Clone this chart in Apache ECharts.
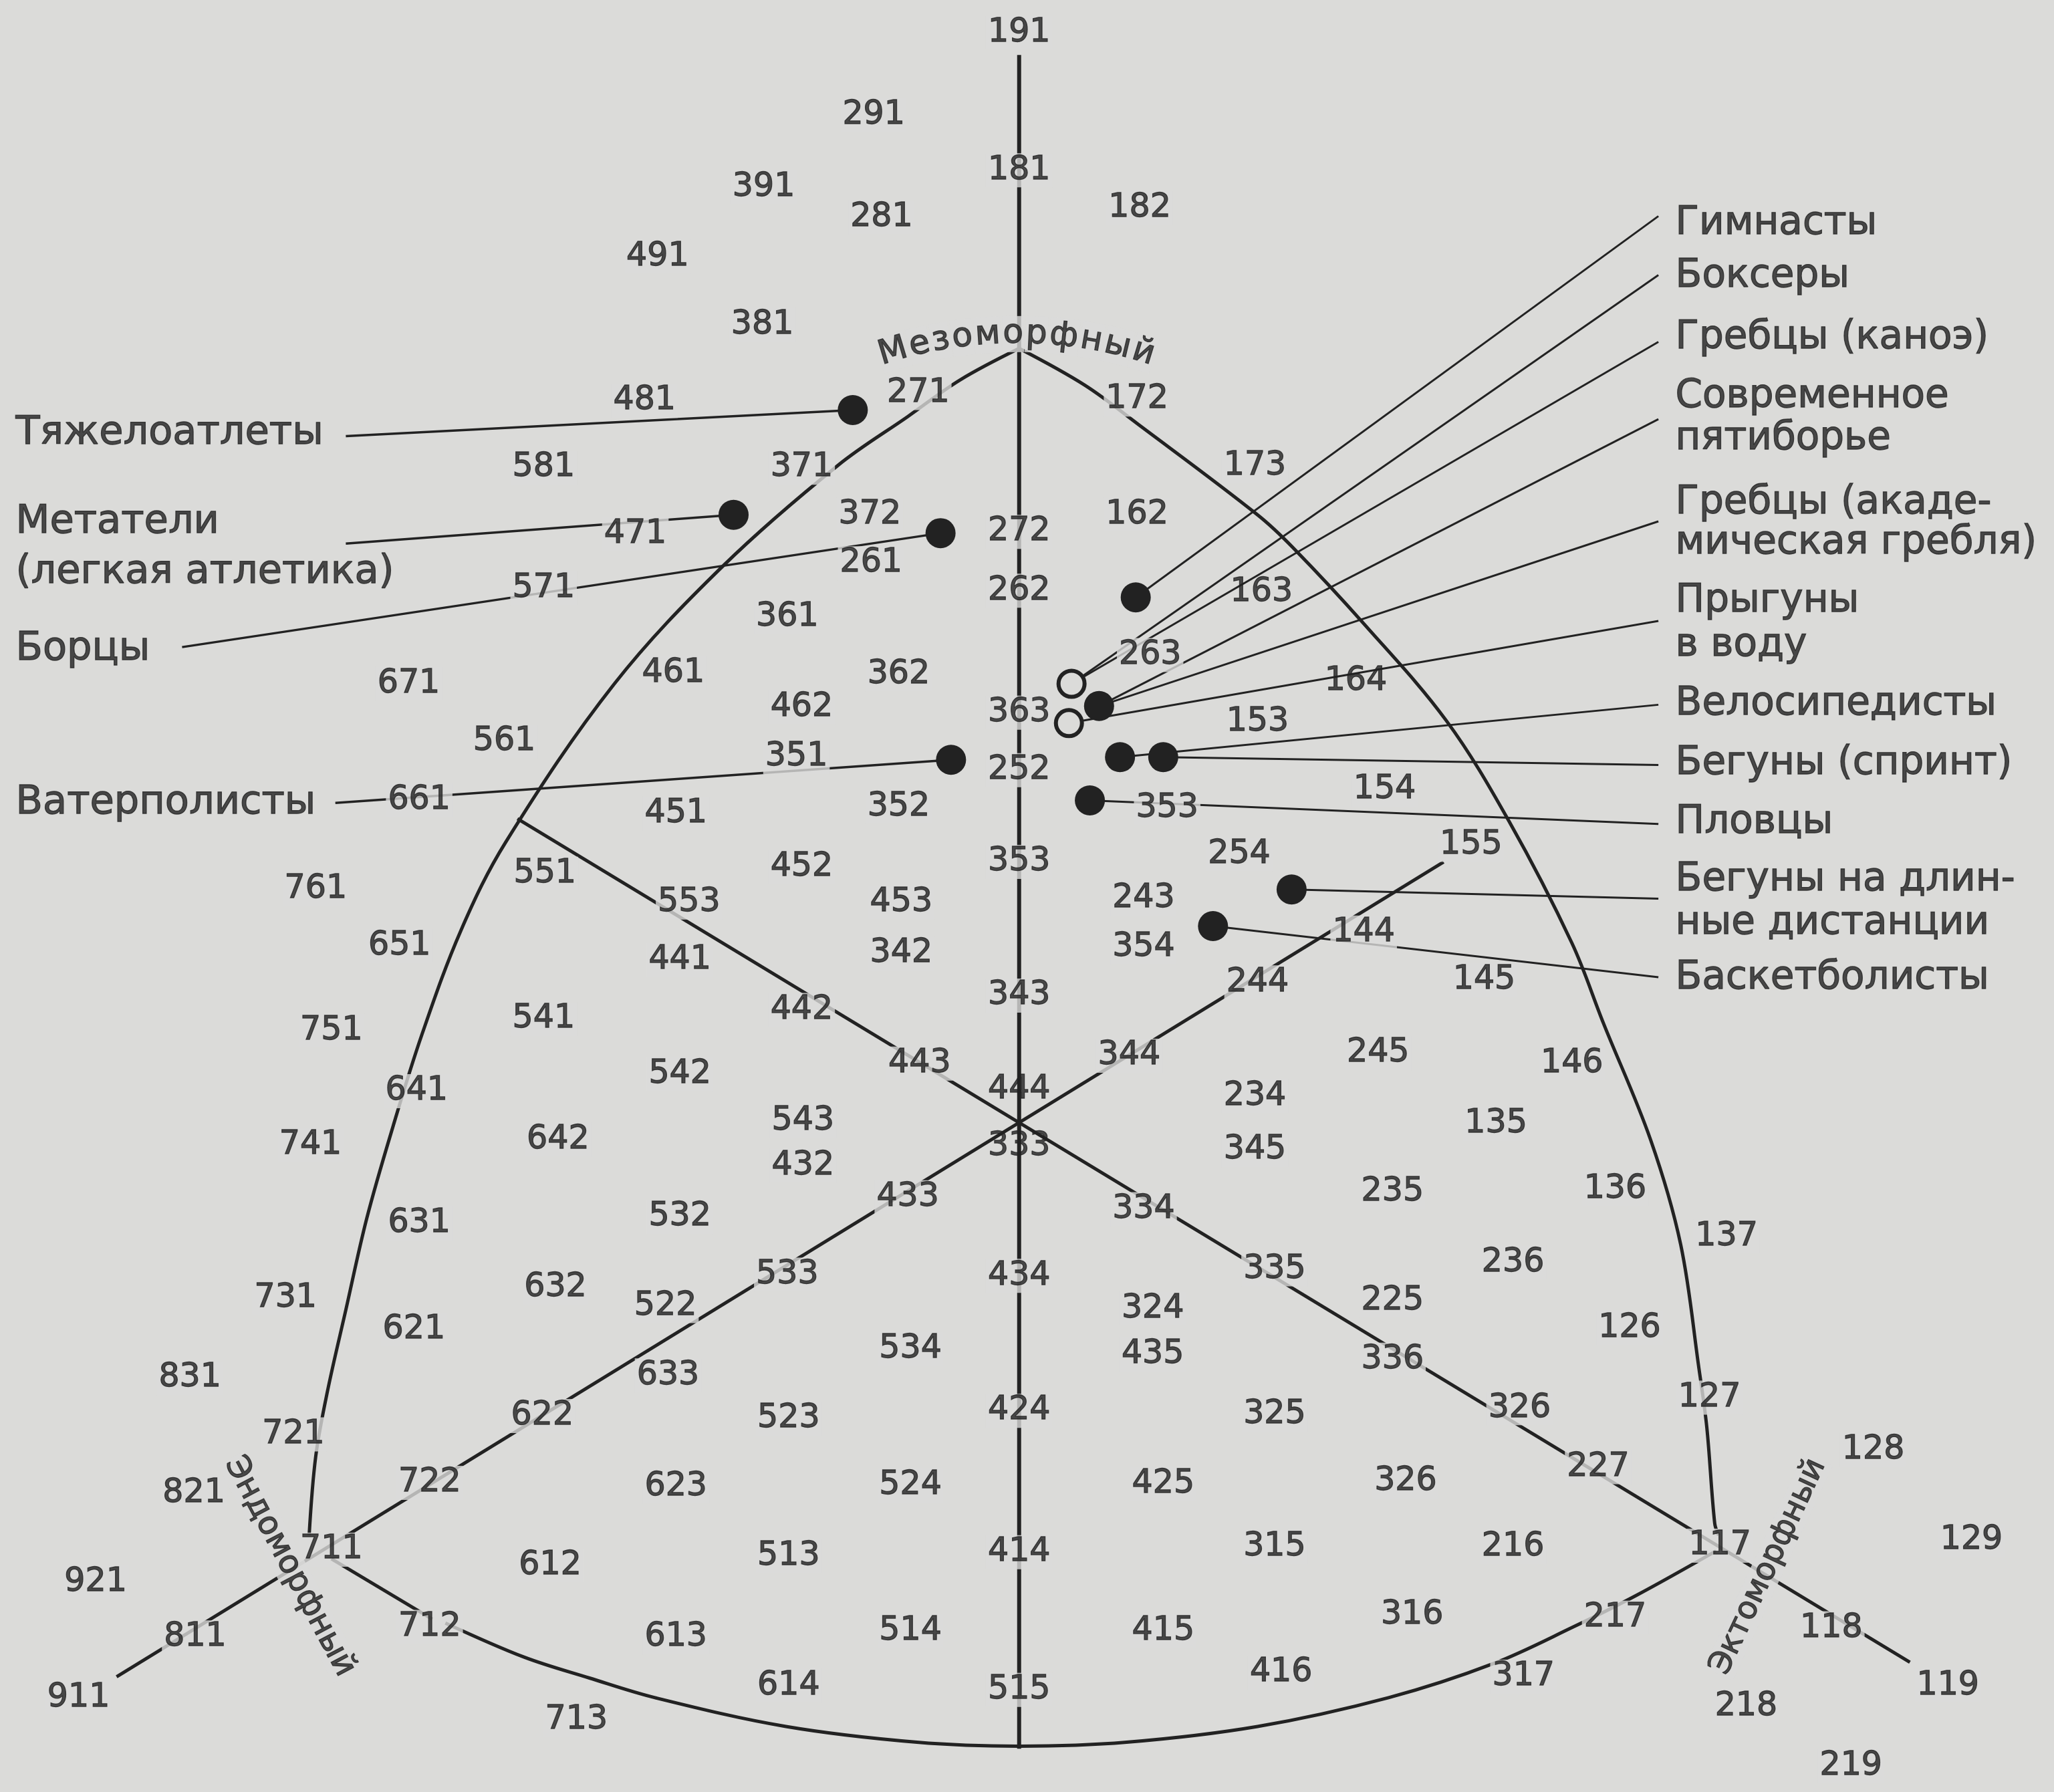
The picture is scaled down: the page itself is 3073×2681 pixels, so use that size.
<!DOCTYPE html>
<html><head><meta charset="utf-8">
<script src="https://cdn.jsdelivr.net/npm/echarts@6/dist/echarts.min.js"></script>
<style>html,body{margin:0;padding:0;background:#dbdbd9}#c{width:3073px;height:2681px}</style>
</head><body><div id="c"></div>
<script>
// ---- somatotype codes: [x, y, code] in chart units (plot spans 1568 x 1368) ----
const codes = [
[778,25,'191'],[667,88,'291'],[778,130,'181'],[583,143,'391'],[870,159,'182'],[673,166,'281'],
[502,196,'491'],[582,248,'381'],[492,306,'481'],[701,300,'271'],[868,305,'172'],
[415,357,'581'],[612,357,'371'],[958,356,'173'],
[485,408,'471'],[664,393,'372'],[778,406,'272'],[868,393,'162'],[665,430,'261'],
[415,449,'571'],[778,451,'262'],[963,452,'163'],[601,471,'361'],[878,500,'263'],
[312,522,'671'],[514,514,'461'],[686,515,'362'],[1035,520,'164'],
[612,540,'462'],[778,544,'363'],[960,551,'153'],[385,566,'561'],[608,578,'351'],[778,588,'252'],
[1057,603,'154'],[320,611,'661'],[516,621,'451'],[686,616,'352'],[891,617,'353'],
[1123,645,'155'],[946,652,'254'],[416,667,'551'],[612,662,'452'],[778,658,'353'],
[241,679,'761'],[526,689,'553'],[688,689,'453'],[873,686,'243'],[1041,712,'144'],
[305,722,'651'],[519,733,'441'],[688,728,'342'],[873,723,'354'],
[1133,748,'145'],[960,750,'244'],[778,760,'343'],[612,771,'442'],[253,787,'751'],[415,778,'541'],
[1052,804,'245'],[1200,812,'146'],[702,812,'443'],[862,806,'344'],[519,820,'542'],
[318,833,'641'],[778,832,'444'],[958,837,'234'],[613,856,'543'],[1142,858,'135'],
[237,874,'741'],[426,870,'642'],[778,875,'333'],[958,878,'345'],
[613,890,'432'],[1233,908,'136'],[1063,910,'235'],[693,914,'433'],
[873,923,'334'],[320,934,'631'],[519,929,'532'],[1318,944,'137'],
[1155,964,'236'],[973,969,'335'],[601,973,'533'],[778,974,'434'],
[424,983,'632'],[218,991,'731'],[508,997,'522'],[1063,993,'225'],[880,999,'324'],
[316,1015,'621'],[1244,1014,'126'],[695,1030,'534'],[880,1034,'435'],[1063,1038,'336'],
[510,1050,'633'],[145,1052,'831'],
[1305,1067,'127'],[1160,1075,'326'],[414,1081,'622'],[778,1077,'424'],[973,1080,'325'],[602,1083,'523'],
[224,1095,'721'],[1430,1107,'128'],[1220,1120,'227'],[328,1132,'722'],[516,1135,'623'],
[695,1134,'524'],[888,1133,'425'],[1073,1131,'326'],[148,1140,'821'],
[253,1183,'711'],[778,1185,'414'],[973,1181,'315'],[1155,1181,'216'],[1313,1180,'117'],
[1505,1176,'129'],[420,1195,'612'],[602,1188,'513'],[73,1208,'921'],
[328,1242,'712'],[516,1250,'613'],[695,1245,'514'],[888,1245,'415'],[1078,1233,'316'],
[1233,1235,'217'],[1398,1243,'118'],[149,1250,'811'],
[602,1287,'614'],[778,1290,'515'],[978,1277,'416'],[1163,1280,'317'],[60,1296,'911'],
[440,1313,'713'],[1487,1287,'119'],[1333,1303,'218'],[1413,1348,'219']
];
const crossedCodes = ['444','333','163','164','153'];

// ---- frame lines of the somatochart ----
const verticalAxisLine = [[778,42],[778,1335]];
const leftArc = [[778,266],[733,290],[693,318],[640,355],[552,432],[469,522],[386,643],[352,710],
  [322,790],[300,860],[280,930],[264,1000],[250,1062],[241,1112],[236,1172]];
const rightArc = [[778,266],[828,294],[869,324],[960,393],[987,418],[1041,476],[1104,550],[1152,627],
  [1200,720],[1224,781],[1260,870],[1283,950],[1297,1045],[1303,1090],[1309,1163],[1312,1172]];
const bottomLink = [[253,1190],[330,1236]];
const bottomArc = [[340,1239],[400,1265],[450,1281],[500,1296],[600,1318],[700,1330],[778,1333],
  [860,1330],[960,1318],[1060,1296],[1140,1270],[1201,1242],[1249,1218],[1310,1184]];
const diagonalA = [[395,625],[1458,1269]];
const diagonalB = [[1102,658],[89,1280]];

// ---- sport groups ----
const sportMarkers = [[651,313],[560,393],[718,407],[726,580],[867,456],[818,522],[839,539],
  [816,552],[855,578],[888,578],[832,611],[986,679],[926,707]];
const markerOpen = [false,false,false,false,false,true,false,true,false,false,false,false,false];
const sportNames = ['Тяжелоатлеты','Метатели (легкая атлетика)','Борцы','Ватерполисты','Гимнасты',
  'Боксеры','Гребцы (каноэ)','Современное пятиборье','Гребцы (академическая гребля)','Прыгуны в воду',
  'Велосипедисты','Бегуны (спринт)','Пловцы','Бегуны на длинные дистанции','Баскетболисты'];
const sportMarkerIndex = [0,1,2,3,4,5,5,6,6,7,8,9,10,11,12];
const leaderEnds = [[264,333],[264,415],[139,494],[256,613],[1266,165],[1266,210],[1266,261],
  [1266,320],[1266,398],[1266,474],[1266,538],[1266,584],[1266,629],[1266,686],[1266,746]];
const leftTexts = [['Тяжелоатлеты',12,331],['Метатели',12,399],['(легкая атлетика)',12,437],
  ['Борцы',12,496],['Ватерполисты',12,613]];
const rightTexts = [['Гимнасты',171],['Боксеры',211],['Гребцы (каноэ)',258],['Современное',303],
  ['пятиборье',335],['Гребцы (акаде-',384],['мическая гребля)',415],['Прыгуны',459],['в воду',493],
  ['Велосипедисты',538],['Бегуны (спринт)',583],['Пловцы',628],['Бегуны на длин-',672],
  ['ные дистанции',705],['Баскетболисты',747]];
const rightTextX = 1279;

// ---- axis names ----
const mesoWord = 'Мезоморфный';
const endoWord = 'Эндоморфный';
const ectoWord = 'Эктоморфный';

const BG = '#dbdbd9';
const INK = '#222222';
const FONT = 'DejaVu Sans';
const U = 3073 / 1568;
const TB = {textBorderColor: INK, textBorderWidth: 1.3};

function lineSeries(data, width, smooth, z) {
  return {type:'line', data, smooth: smooth || false, symbol:'none', silent:true, animation:false,
    clip:false, z: z || 2, lineStyle:{color:INK, width, cap:'butt'}};
}

// arched "Мезоморфный" letters
const arcR = 330, arcCx = 776, arcTop = 255, arcSpan = 213, mesoSize = 50;
const cv = document.createElement('canvas').getContext('2d');
cv.font = mesoSize + 'px "' + FONT + '"';
const widths = Array.from(mesoWord).map(ch => cv.measureText(ch).width / U);
const totalW = widths.reduce((a,b)=>a+b,0);
const gap = Math.max(0, (arcSpan - totalW) / (widths.length - 1));
const span = totalW + gap * (widths.length - 1);
let acc = 0;
const mesoLetters = Array.from(mesoWord).map((ch,i) => {
  const s = acc + widths[i]/2 - span/2;
  acc += widths[i] + gap;
  const th = s / arcR;
  return {value:[arcCx + arcR*Math.sin(th), arcTop + arcR - arcR*Math.cos(th)], name: ch,
    label:{rotate: -th*180/Math.PI}};
});

const series = [];
series.push(lineSeries(verticalAxisLine, 6));
series.push(lineSeries(leftArc, 5, 0.35));
series.push(lineSeries(rightArc, 5, 0.35));
series.push(lineSeries(bottomLink, 5));
series.push(lineSeries(bottomArc, 5, 0.35));
series.push(lineSeries(diagonalA, 5));
series.push(lineSeries(diagonalB, 5));
sportNames.forEach((n,i) => {
  const m = sportMarkers[sportMarkerIndex[i]];
  series.push(lineSeries([m, leaderEnds[i]], i < 4 ? 3.5 : 3, false, 3));
});

series.push({type:'scatter', z:5, silent:true, animation:false, symbolSize:0,
  data: codes.map(c => ({value:[c[0],c[1]], name:c[2],
    label:{backgroundColor: crossedCodes.includes(c[2]) ? 'transparent' : BG}})),
  label:Object.assign({show:true, position:'inside', formatter:'{b}', fontFamily:FONT, fontSize:49,
    color:INK, padding:[1,3]}, TB)});

series.push({type:'scatter', z:5, silent:true, animation:false, symbolSize:0,
  data: mesoLetters,
  label:Object.assign({show:true, position:'inside', formatter:'{b}', fontFamily:FONT, fontSize:mesoSize,
    color:INK, backgroundColor:BG, padding:[2,1]}, TB)});

series.push({type:'scatter', z:5, silent:true, animation:false, symbolSize:0,
  data: [{value:[221,1196], name:endoWord, label:{rotate:-62, fontSize:48}},
         {value:[1350,1196], name:ectoWord, label:{rotate:65, fontSize:47}}],
  label:Object.assign({show:true, position:'inside', formatter:'{b}', fontFamily:FONT,
    color:INK, backgroundColor:BG, padding:[0,2]}, TB)});

series.push({type:'scatter', z:5, silent:true, animation:false, symbolSize:0,
  data: leftTexts.map(t => ({value:[t[1],t[2]], name:t[0], label:{fontSize:59}}))
    .concat(rightTexts.map(t => ({value:[rightTextX,t[1]], name:t[0]}))),
  label:Object.assign({show:true, position:'right', distance:0, formatter:'{b}', fontFamily:FONT,
    fontSize:58, color:INK}, TB)});

series.push({type:'scatter', z:7, silent:true, animation:false,
  data: sportMarkers.map((p,i) => ({value:p,
    symbolSize: markerOpen[i] ? 39 : 45,
    itemStyle: markerOpen[i] ? {color:BG, borderColor:INK, borderWidth:6, opacity:1}
                             : {color:INK, opacity:1}}))});

const chart = echarts.init(document.getElementById('c'));
chart.setOption({
  backgroundColor: BG,
  animation:false,
  grid:{left:0,right:0,top:0,bottom:0},
  xAxis:{type:'value', min:0, max:1568, show:false},
  yAxis:{type:'value', min:0, max:1368, inverse:true, show:false},
  series
});
</script></body></html>
